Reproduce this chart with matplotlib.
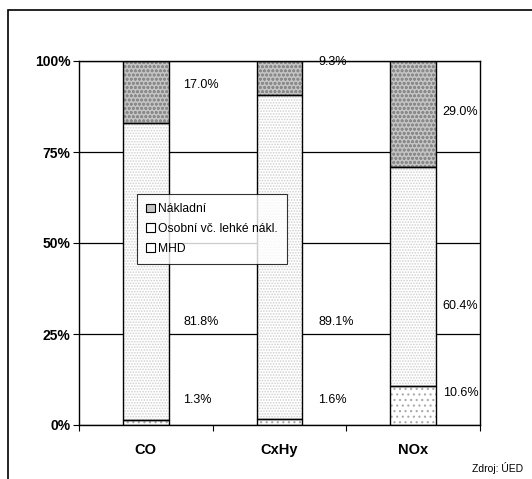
import numpy as np
import matplotlib.pyplot as plt
from matplotlib.patches import Rectangle, Patch

plt.rcParams['font.family'] = ['Liberation Sans', 'DejaVu Sans']

# data (shares in %)
categories = ['CO', 'CxHy', 'NOx']
mhd = [1.3, 1.6, 10.6]
osobni = [81.8, 89.1, 60.4]
nakladni = [17.0, 9.3, 29.0]
series_names = ['MHD', 'Osobní vč. lehké nákl.', 'Nákladní']
y_ticks = [0, 25, 50, 75, 100]

# layout of the value labels (where the original put them)
label_x = [0.78, 1.79, 2.72]
label_y = [[6.9, 28.3, 93.4], [6.9, 28.3, 99.7], [8.8, 32.7, 86.0]]

# fill styles per series: face, hatch, hatch colour
styles = [('white', '...', '#a8a8a8'),
          ('white', '......', '#d0d0d0'),
          ('#c4c4c4', 'oooo', '#8a8a8a')]

W, H = 532, 479
fig = plt.figure(figsize=(W / 100, H / 100), dpi=100)
ax = fig.add_axes([79 / W, 54 / H, 401 / W, 364 / H])

# outer frame (cut off at right and bottom like the original)
fig.patches.append(Rectangle((8 / W, -0.05), 1.0, 1 - 10 / H + 0.05,
                             transform=fig.transFigure, fill=False,
                             edgecolor='black', linewidth=1.2))

x = np.arange(len(categories)) + 0.5
width = 0.34
bottom = np.zeros(len(categories))
for vals, (fc, hatch, hc) in zip([mhd, osobni, nakladni], styles):
    plt.rcParams['hatch.color'] = hc
    plt.rcParams['hatch.linewidth'] = 0.8
    ax.bar(x, vals, width, bottom=bottom, color=fc, hatch=hatch,
           edgecolor=hc, linewidth=0, zorder=2)
    ax.bar(x, vals, width, bottom=bottom, fill=False,
           edgecolor='black', linewidth=1.0, zorder=3)
    bottom += np.array(vals)

for i in range(len(categories)):
    for vals, ly in zip([mhd, osobni, nakladni], label_y[i]):
        ax.text(label_x[i], ly, f'{vals[i]:.1f}%', fontsize=9,
                ha='left', va='center', zorder=4)

ax.set_xlim(0, 3)
ax.set_ylim(0, 100)
ax.set_yticks(y_ticks)
ax.set_yticklabels([f'{t}%' for t in y_ticks], fontweight='bold', fontsize=10)
ax.set_xticks([0, 1, 2, 3])
ax.set_xticklabels([])
ax.set_xticks(x, minor=True)
ax.set_xticklabels(categories, minor=True, fontweight='bold', fontsize=10.5)
ax.tick_params(axis='x', which='minor', length=0, pad=13)
ax.tick_params(axis='x', which='major', length=4, direction='out')
ax.tick_params(axis='y', length=4, direction='out', pad=2)
ax.yaxis.grid(True, color='black', linewidth=0.9, zorder=0)
ax.set_axisbelow(True)
for s in ax.spines.values():
    s.set_linewidth(1.0)

handles = []
for name, (fc, hatch, hc) in zip(series_names, styles):
    handles.append(Patch(facecolor=fc, edgecolor='black', linewidth=0.8,
                         label=name))
leg = fig.legend(handles[::-1], series_names[::-1], loc='upper left',
                 bbox_to_anchor=(137 / W, 1 - 194 / H), fontsize=8.7,
                 frameon=True, fancybox=False, edgecolor='black',
                 handlelength=0.7, handleheight=0.7, handletextpad=0.3,
                 labelspacing=0.65, borderpad=0.75, borderaxespad=0)
leg.get_frame().set_linewidth(0.8)

fig.text(523 / W, 1 - 468 / H, 'Zdroj: ÚED', fontsize=7.5, ha='right',
         va='center')

fig.savefig('out.png', dpi=100)
